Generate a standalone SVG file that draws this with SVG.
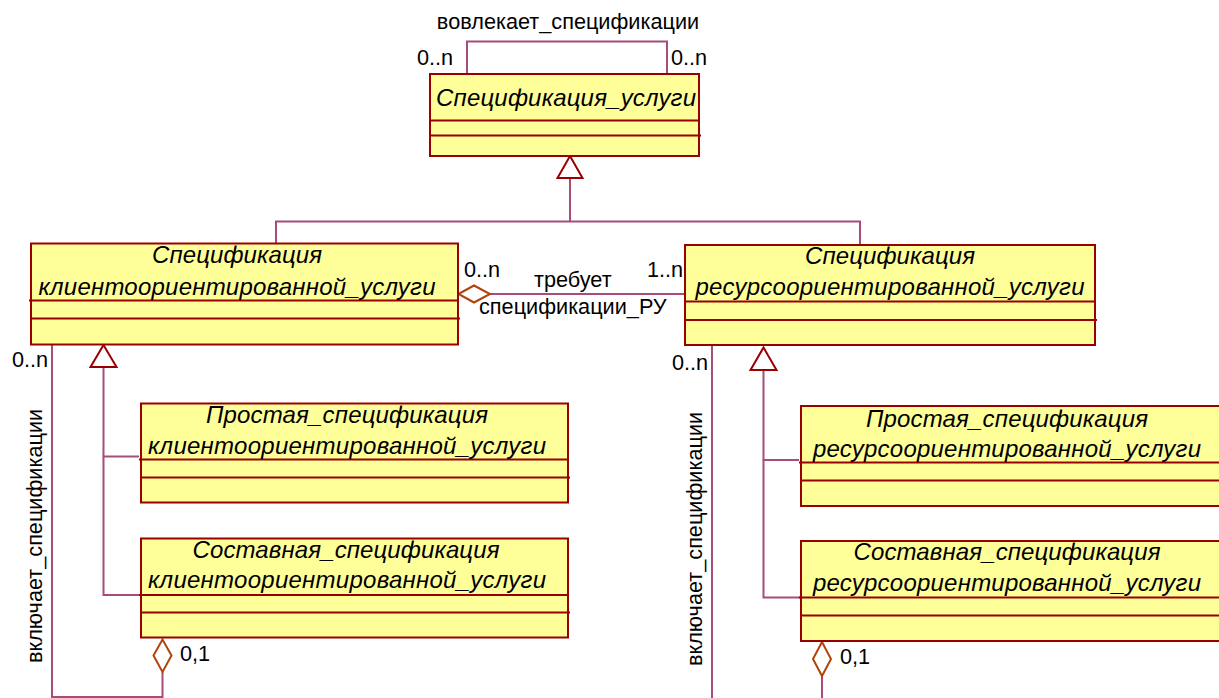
<svg xmlns="http://www.w3.org/2000/svg" width="1219" height="698" viewBox="0 0 1219 698">
<style>
.box{fill:#FFFF99;stroke:#990000;stroke-width:2}
.sep{stroke:#990000;stroke-width:2;fill:none}
.cn{font-family:"Liberation Sans",Arial,sans-serif;font-style:italic;font-size:24px;fill:#000;text-anchor:middle}
.lb{font-family:"Liberation Sans",Arial,sans-serif;font-size:21.7px;fill:#000}
.ln{stroke:#A84C7C;stroke-width:2;fill:none}
.tri{fill:#fff;stroke:#990000;stroke-width:2}
.dia{fill:#fff;stroke:#B0440C;stroke-width:2}
</style>
<rect width="1219" height="698" fill="#fff"/>
<g id="connectors">
  <polyline class="ln" points="467,74 467,41.5 667,41.5 667,74"/>
  <text class="lb" x="568" y="29" text-anchor="middle">вовлекает_спецификации</text>
  <text class="lb" x="417" y="65">0..n</text>
  <text class="lb" x="671" y="65">0..n</text>
  <polyline class="ln" points="276,243 276,221.5 860,221.5 860,245"/>
  <line class="ln" x1="570" y1="221.5" x2="570" y2="178"/>
  <polygon class="tri" points="570,156 582.5,178 557.5,178"/>
  <line class="ln" x1="490" y1="294" x2="685" y2="294"/>
  <polygon class="dia" points="458.5,294 474,285.5 490,294 474,302.5"/>
  <text class="lb" x="464" y="277">0..n</text>
  <text class="lb" x="534" y="287">требует</text>
  <text class="lb" x="647" y="277">1..n</text>
  <text class="lb" x="479" y="314">спецификации_РУ</text>
  <polyline class="ln" points="139,456.5 103.5,456.5 103.5,595 141,595"/>
  <line class="ln" x1="103.5" y1="367" x2="103.5" y2="456.5"/>
  <polygon class="tri" points="103.5,345 116.5,367 90.5,367"/>
  <polyline class="ln" points="52,345 52,697 162.5,697 162.5,672"/>
  <polygon class="dia" points="162.5,639.5 171.5,655.5 162.5,672 153.5,655.5"/>
  <text class="lb" x="12" y="367">0..n</text>
  <text class="lb" x="180" y="661">0,1</text>
  <text class="lb" transform="translate(42,536) rotate(-90)" text-anchor="middle">включает_спецификации</text>
  <polyline class="ln" points="799,460 763.5,460 763.5,597.5 801,597.5"/>
  <line class="ln" x1="763.5" y1="370" x2="763.5" y2="460"/>
  <polygon class="tri" points="763.5,347.5 776.5,370 750.5,370"/>
  <line class="ln" x1="712" y1="345" x2="712" y2="698"/>
  <line class="ln" x1="822" y1="676" x2="822" y2="698"/>
  <polygon class="dia" points="822,642 831,659 822,676 813,659"/>
  <text class="lb" x="672" y="370">0..n</text>
  <text class="lb" x="840" y="664">0,1</text>
  <text class="lb" transform="translate(702,539) rotate(-90)" text-anchor="middle">включает_спецификации</text>
</g>
<g id="service-spec">
  <rect class="box" x="430" y="74" width="269" height="82"/>
  <line class="sep" x1="430" y1="120.5" x2="699" y2="120.5"/>
  <line class="sep" x1="430" y1="135.5" x2="701" y2="135.5"/>
  <text class="cn" x="566" y="106" textLength="260">Спецификация_услуги</text>
</g>
<g id="client-spec">
  <rect class="box" x="31" y="243.5" width="427" height="101"/>
  <line class="sep" x1="29" y1="300.5" x2="458" y2="300.5"/>
  <line class="sep" x1="31" y1="318.5" x2="460" y2="318.5"/>
  <text class="cn" x="237" y="263" textLength="170">Спецификация</text>
  <text class="cn" x="237" y="295" textLength="397">клиентоориентированной_услуги</text>
</g>
<g id="resource-spec">
  <rect class="box" x="685" y="245" width="410" height="100"/>
  <line class="sep" x1="684" y1="301.5" x2="1095" y2="301.5"/>
  <line class="sep" x1="685" y1="320" x2="1097" y2="320"/>
  <text class="cn" x="890" y="264" textLength="170">Спецификация</text>
  <text class="cn" x="890" y="295" textLength="389">ресурсоориентированной_услуги</text>
</g>
<g id="simple-client-spec">
  <rect class="box" x="141" y="403.5" width="427" height="99"/>
  <line class="sep" x1="139" y1="459.5" x2="568" y2="459.5"/>
  <line class="sep" x1="141" y1="477.5" x2="570" y2="477.5"/>
  <text class="cn" x="347" y="423" textLength="282">Простая_спецификация</text>
  <text class="cn" x="347" y="454" textLength="398">клиентоориентированной_услуги</text>
</g>
<g id="composite-client-spec">
  <rect class="box" x="141" y="538.5" width="427" height="99"/>
  <line class="sep" x1="139" y1="595" x2="568" y2="595"/>
  <line class="sep" x1="141" y1="612.5" x2="570" y2="612.5"/>
  <text class="cn" x="346" y="558" textLength="307">Составная_спецификация</text>
  <text class="cn" x="347" y="588" textLength="398">клиентоориентированной_услуги</text>
</g>
<g id="simple-resource-spec">
  <rect class="box" x="801" y="406" width="440" height="100"/>
  <line class="sep" x1="799" y1="462.5" x2="1241" y2="462.5"/>
  <line class="sep" x1="801" y1="480.5" x2="1241" y2="480.5"/>
  <text class="cn" x="1007" y="427" textLength="282">Простая_спецификация</text>
  <text class="cn" x="1007" y="457" textLength="388">ресурсоориентированной_услуги</text>
</g>
<g id="composite-resource-spec">
  <rect class="box" x="801" y="541" width="440" height="100"/>
  <line class="sep" x1="799" y1="597.5" x2="1241" y2="597.5"/>
  <line class="sep" x1="801" y1="615.5" x2="1241" y2="615.5"/>
  <text class="cn" x="1007" y="560" textLength="307">Составная_спецификация</text>
  <text class="cn" x="1007" y="591" textLength="388">ресурсоориентированной_услуги</text>
</g>
</svg>
